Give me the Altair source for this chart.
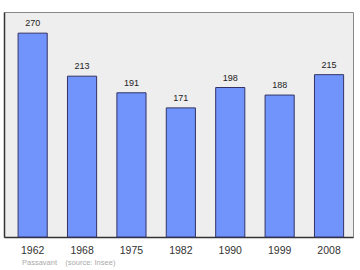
import altair as alt
import pandas as pd

years = ["1962", "1968", "1975", "1982", "1990", "1999", "2008"]
population = [270, 213, 191, 171, 198, 188, 215]
source_text = "Passavant\u00a0\u00a0\u00a0\u00a0(source: Insee)"

df = pd.DataFrame({"year": years, "pop": population})

base = alt.Chart(df).encode(
    x=alt.X("year:N", sort=years, title=None,
            scale=alt.Scale(paddingInner=0.41, paddingOuter=0.2375, align=0.6),
            axis=alt.Axis(labelAngle=0, labelFontSize=10.5, labelColor="#333333",
                          labelFont="Liberation Sans", ticks=False, domainColor="#333333",
                          domainWidth=1.5, labelPadding=8)),
    y=alt.Y("pop:Q", title=None, scale=alt.Scale(domain=[0, 298], nice=False),
            axis=alt.Axis(labels=False, ticks=False, grid=False, domainColor="#333333",
                          domainWidth=1.5)),
)

bars = base.mark_bar(color="#7094fb", stroke="#333366", strokeWidth=1)
labels = base.mark_text(dy=-10, fontSize=9, font="Liberation Sans", color="#222222").encode(
    text="pop:Q"
)

src = alt.Chart(pd.DataFrame({"t": [source_text]})).mark_text(
    align="left", baseline="middle", fontSize=7.5, font="Liberation Sans", color="#aaaaaa"
).encode(x=alt.value(18), y=alt.value(251), text="t:N")

chart = (bars + labels + src).properties(
    width=349, height=225,
    padding={"left": 4, "top": 12, "right": 7, "bottom": 33},
    autosize=alt.AutoSizeParams(type="none"),
    background="white",
).configure_view(fill="#eeeeee", stroke="#888888", strokeWidth=1)

chart.save("out.html", embed_options={"renderer": "svg", "actions": False})
